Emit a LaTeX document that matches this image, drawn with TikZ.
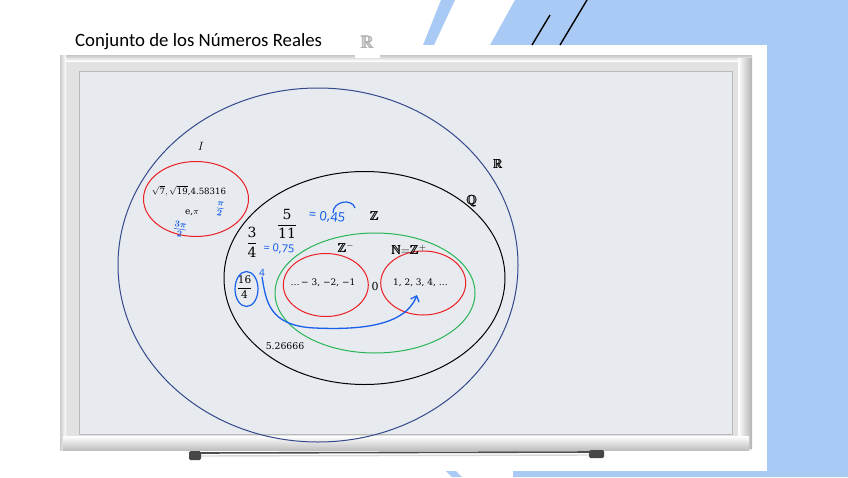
\documentclass[tikz,border=0pt]{standalone}
\usepackage{fontspec}
\usepackage{amsmath,amssymb}
\usetikzlibrary{shapes.geometric,arrows.meta}
\newfontfamily\titlefont{Carlito}
\newfontfamily\handfont{Noto Sans}
\newfontfamily\numfont{DejaVu Serif}
\definecolor{bgblue}{RGB}{170,202,246}
\definecolor{board}{RGB}{231,235,239}
\definecolor{framegray}{RGB}{226,226,226}
\definecolor{rblue}{RGB}{52,72,140}
\definecolor{vred}{RGB}{235,30,35}
\definecolor{vgreen}{RGB}{40,180,85}
\definecolor{hblue}{RGB}{25,95,235}
\newcommand{\nm}[1]{\text{\numfont #1}}
\tikzset{
  setline/.style={ellipse, draw, line width=1pt, inner sep=0pt},
  lbl/.style={inner sep=0pt, font=\fontsize{13}{15}\selectfont},
  small/.style={inner sep=0pt, font=\numfont\fontsize{9}{10}\selectfont},
  hand/.style={inner sep=0pt, text=hblue, font=\handfont\fontsize{12}{14}\selectfont},
}
\begin{document}
\begin{tikzpicture}[x=1pt,y=-1pt]
\useasboundingbox (0,0) rectangle (848,477);
\fill[white] (0,0) rectangle (848,477);
% background decoration
\fill[bgblue] (515,0) -- (848,0) -- (848,477) -- (513,477) -- (513,300) -- (490,45) -- cycle;
\fill[bgblue] (441,0) -- (455,0) -- (434,45) -- (423,45) -- cycle;
\fill[bgblue] (446,471) -- (456,471) -- (462,477) -- (452,477) -- cycle;
\fill[white] (57,45) rectangle (767,471);
\draw[line width=1.4pt] (550,15) -- (532,45);
\draw[line width=1.4pt] (587,0) -- (560,45);
% title
\node[anchor=base west, inner sep=0pt, font=\titlefont\fontsize{18.8}{21}\selectfont] (title) at (75,46) {Conjunto de los Números Reales};
% whiteboard frame
\fill[framegray] (60,55) rectangle (752,450);
\shade[top color=gray!45, bottom color=white] (60,55) rectangle (752,61);
\shade[left color=gray!40, right color=white] (60,55) rectangle (66,450);
\shade[left color=white, right color=gray!60] (738,58) rectangle (752,448);
\shade[top color=white, bottom color=gray!50] (63,436) rectangle (749,450);
\draw[gray!55, fill=board] (79,71) rectangle (732,434);
% marker tray
\draw[line width=1.6pt, gray!60!black] (196,453) -- (594,452);
\draw[line width=1.4pt, gray!30] (196,456) -- (594,455);
\fill[gray!55!black, rounded corners=1.5pt] (189,451) rectangle (201,460);
\fill[gray!55!black, rounded corners=1.5pt] (589,450) rectangle (604,458);
% R patch label at top
\node[fill=white, minimum width=25pt, minimum height=30pt, inner sep=0pt, text=gray!65, font=\fontsize{18}{20}\selectfont] (Rtop) at (367.5,42.5) {$\pmb{\mathbb{R}}$};
% Venn sets
\node[setline, draw=rblue, minimum width=400pt, minimum height=354pt] (R) at (318,265) {};
\node[setline, draw=vred, minimum width=105pt, minimum height=75pt] (I) at (196,199) {};
\node[setline, draw=black, minimum width=281pt, minimum height=213pt] (Q) at (364.5,278) {};
\node[setline, draw=vgreen, minimum width=200pt, minimum height=120pt] (Z) at (375,293) {};
\node[setline, draw=vred, minimum width=85pt, minimum height=63pt] (Zm) at (325.8,285) {};
\node[setline, draw=vred, minimum width=85pt, minimum height=64pt] (N) at (423.2,283) {};
% set labels
\node[lbl] (lR) at (498,164) {$\pmb{\mathbb{R}}$};
\node[lbl] (lQ) at (472,201) {$\pmb{\mathbb{Q}}$};
\node[lbl] (lZ) at (374.5,216) {$\pmb{\mathbb{Z}}$};
\node[lbl] (lZm) at (346,248) {$\pmb{\mathbb{Z}}^{-}$};
\node[lbl] (lN) at (409,250) {$\pmb{\mathbb{N}}{=}\pmb{\mathbb{Z}}^{+}$};
\node[lbl] (lI) at (201,146) {$I$};
% elements
\node[small, font=\numfont\fontsize{8.6}{10}\selectfont] (irr) at (189,191) {$\sqrt{\nm{7}},\sqrt{\nm{19}}$,4.58316};
\node[small] (epi) at (192,213) {e,$\pi$};
\node[small] (neg) at (323,282.5) {…\,− 3, −2, −1};
\node[inner sep=0pt, font=\numfont\fontsize{11}{13}\selectfont] (zero) at (375,286) {0};
\node[small] (pos) at (420.5,282.5) {1, 2, 3, 4, …};
\node[inner sep=0pt, font=\fontsize{14}{16}\selectfont] (f34) at (252,242) {$\dfrac{\nm{3}}{\nm{4}}$};
\node[inner sep=0pt, font=\fontsize{14}{16}\selectfont] (f511) at (287,224) {$\dfrac{\nm{5}}{\nm{11}}$};
\node[inner sep=0pt, font=\fontsize{10.5}{12}\selectfont] (f164) at (244.5,287) {$\dfrac{\nm{16}}{\nm{4}}$};
\node[small, font=\numfont\fontsize{9.3}{11}\selectfont] (dec) at (285,346) {5.26666};
% handwritten notes
\node[hand, rotate=-6, font=\handfont\fontsize{13}{15}\selectfont] (h45) at (327,217) {= 0,45};
\draw[hblue, line width=1.2pt] (333,213) .. controls (333,201) and (352,198) .. (355,208);
\node[hand, rotate=-4, font=\handfont\fontsize{11}{13}\selectfont] (h75) at (279,249) {= 0,75};
\node[inner sep=0pt, text=hblue, font=\fontsize{12.5}{14}\selectfont, rotate=-8] (hpi) at (220,209) {$\boldsymbol{\frac{\pi}{2}}$};
\node[inner sep=0pt, text=hblue, font=\fontsize{12.5}{14}\selectfont, rotate=-8] (h3pi) at (180,229) {$\boldsymbol{\frac{3\pi}{2}}$};
\node[ellipse, draw=hblue, line width=1.2pt, minimum width=23pt, minimum height=35pt, inner sep=0pt] (loop) at (246.5,289) {};
\node[hand, font=\handfont\fontsize{10}{12}\selectfont] (h4) at (262,273) {4};
\coordinate (tip) at (417,295);
\draw[hblue, line width=1.3pt, -{Straight Barb[length=5pt,width=9pt]}] (h4.south) .. controls (266,300) and (268,326) .. (315,328) .. controls (360,330) and (405,326) .. (tip);
\end{tikzpicture}
\end{document}
